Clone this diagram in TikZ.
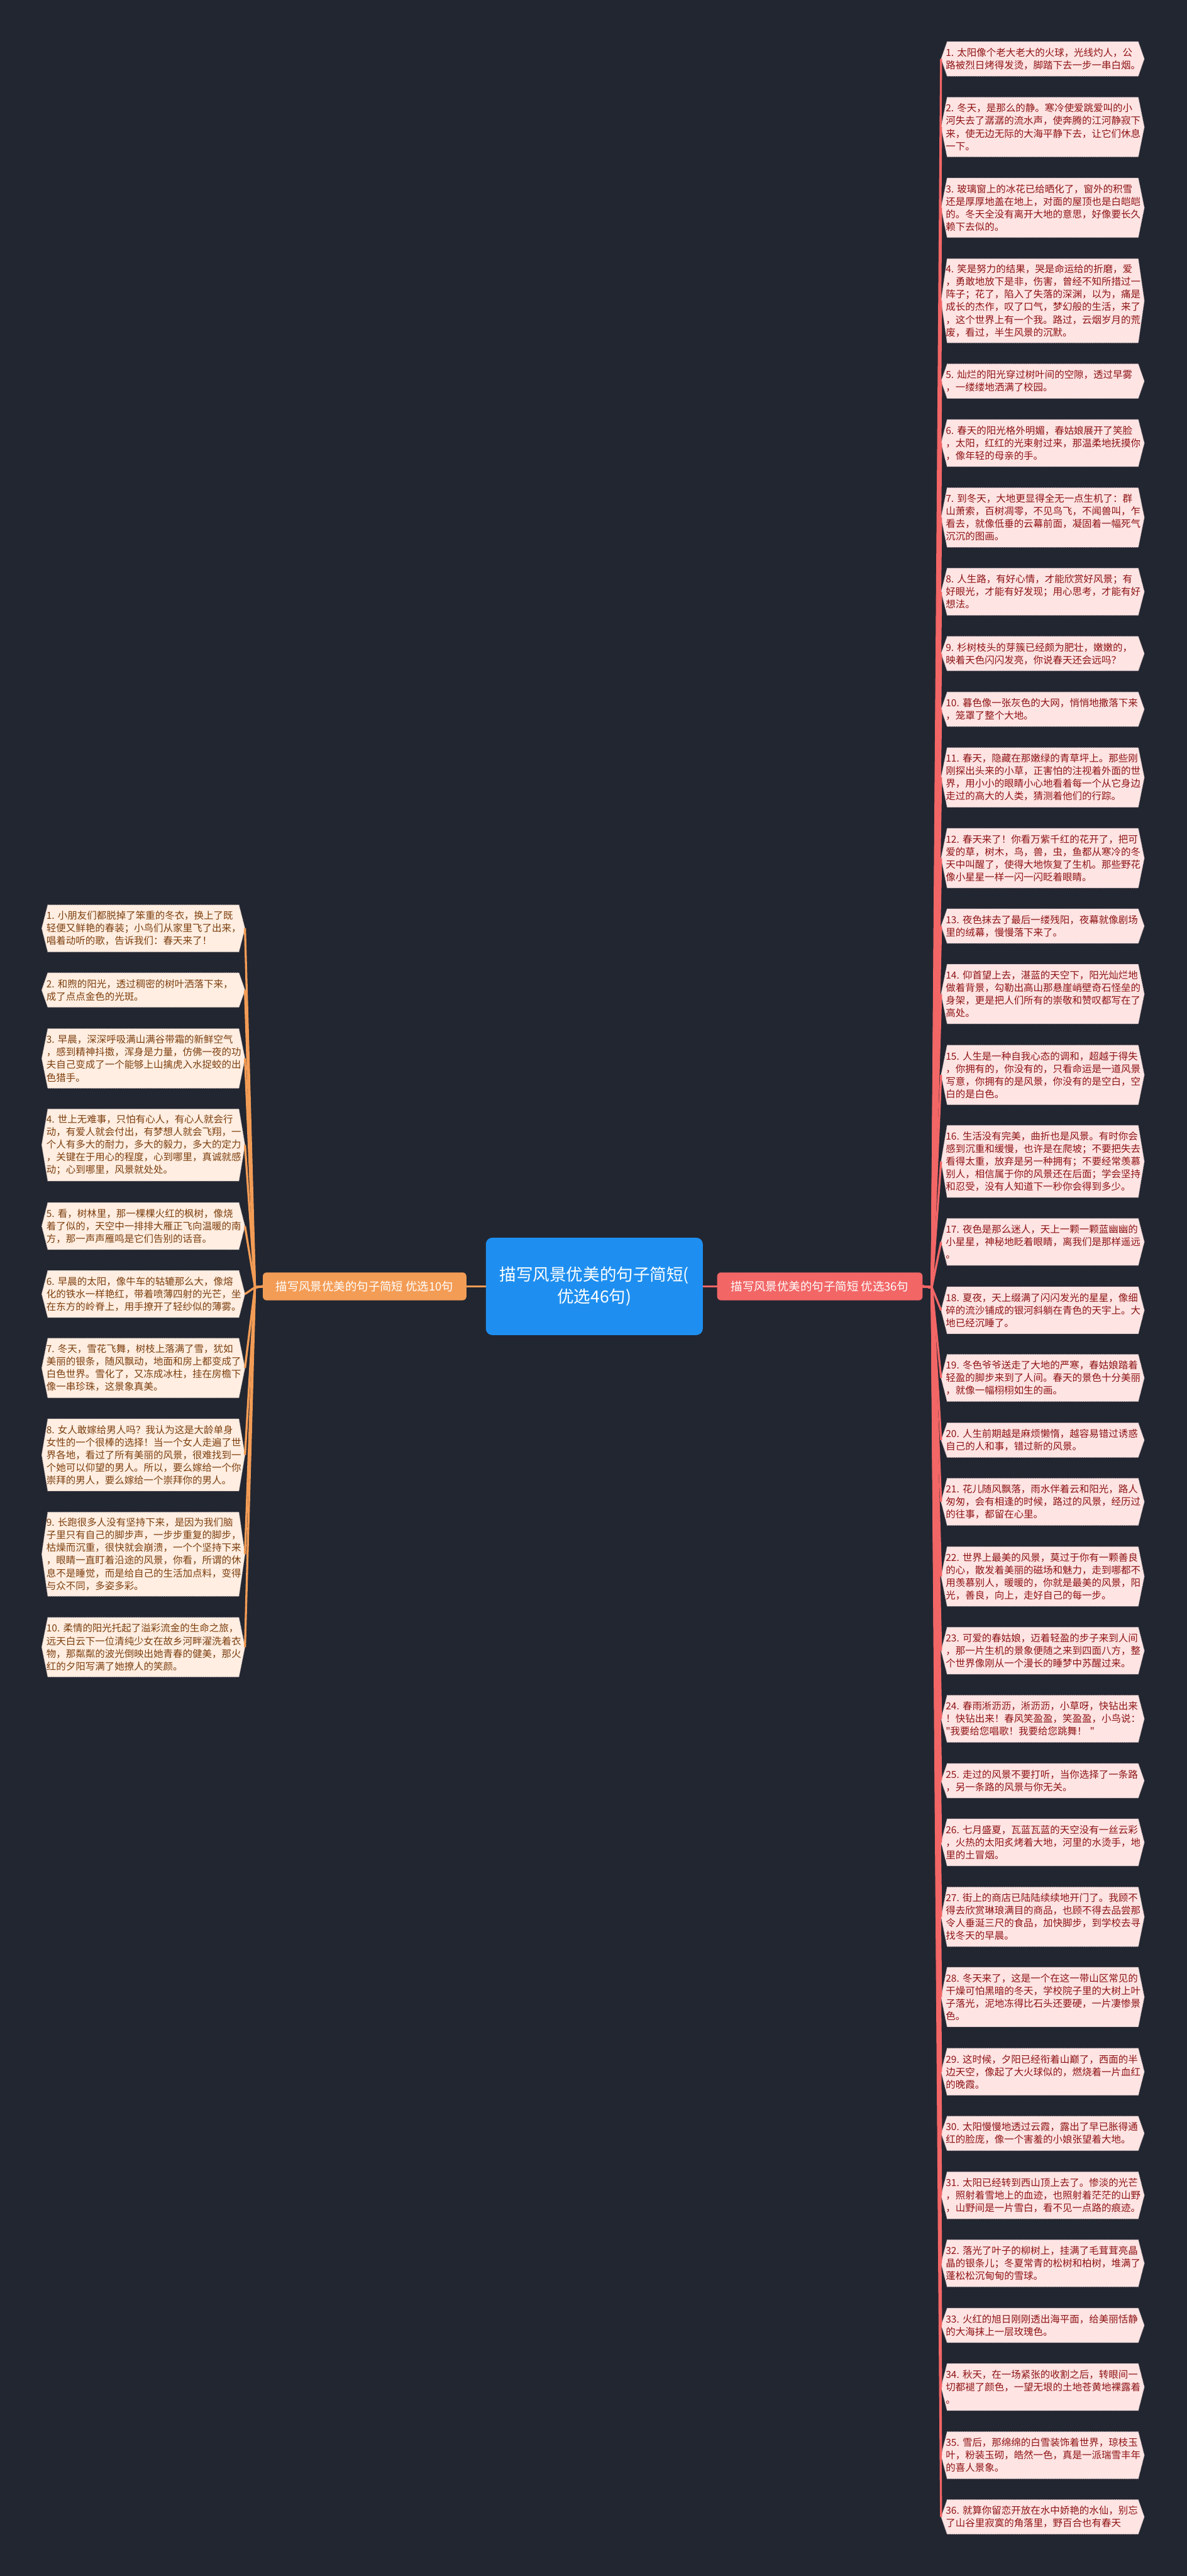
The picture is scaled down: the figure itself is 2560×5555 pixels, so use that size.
\documentclass[tikz,border=0pt]{standalone}
\usepackage{fontspec}
\newfontfamily\cjk{Noto Sans CJK SC}
\usetikzlibrary{backgrounds}
\definecolor{bgc}{HTML}{222631}
\definecolor{rline}{HTML}{F26666}
\definecolor{lline}{HTML}{F39C55}
\definecolor{rfill}{HTML}{FFE4E4}
\definecolor{rtext}{HTML}{8E1414}
\definecolor{lfill}{HTML}{FFEEE1}
\definecolor{ltext}{HTML}{7C3F0F}
\definecolor{cblue}{HTML}{1E8FF0}
\definecolor{hexborder}{HTML}{C8B8B8}
\tikzset{
  leafbox/.style={text width=418pt, inner xsep=10pt, inner ysep=0pt, align=left, anchor=west,
    font=\cjk\fontsize{21pt}{27.2pt}\selectfont},
  rbox/.style={leafbox, text=rtext},
  lbox/.style={leafbox, text=ltext},
  hexstyle/.style={draw=hexborder, line width=1.2pt, dash pattern=on 2pt off 2pt},
  rconn/.style={draw=rline, line width=4.5pt, line join=round},
  lconn/.style={draw=lline, line width=4.5pt, line join=round},
}
\newcommand{\hexbox}[2]{\begin{scope}[on background layer]
  \path[hexstyle, fill=#2] ([xshift=13pt]#1.north west) -- (#1.west) -- ([xshift=13pt]#1.south west)
   -- ([xshift=-13pt]#1.south east) -- (#1.east) -- ([xshift=-13pt]#1.north east) -- cycle;
  \end{scope}}
\newcommand{\RB}[4]{\node[rbox, minimum height=#3pt] (#1) at (2030,#2) {#4};\hexbox{#1}{rfill}}
\newcommand{\LB}[4]{\node[lbox, minimum height=#3pt] (#1) at (90,#2) {#4};\hexbox{#1}{lfill}}
\begin{document}
\begin{tikzpicture}[x=1pt,y=-1pt]
\begin{scope}[on background layer]
\fill[bgc] (0,0) rectangle (2560,5555);
\end{scope}
\useasboundingbox (0,0) rectangle (2560,5555);

% centre and branches
\node[fill=cblue, rounded corners=14pt, text=white, align=center, minimum width=468pt, minimum height=210pt,
  font=\cjk\fontsize{36pt}{47pt}\selectfont] (c) at (1282,2774) {描写风景优美的句子简短(\\优选46句)};
\node[fill=lline, rounded corners=8pt, text=white, minimum width=439pt, minimum height=60pt,
  font=\cjk\fontsize{25pt}{30pt}\selectfont] (lb) at (786.5,2774) {描写风景优美的句子简短 优选10句};
\node[fill=rline, rounded corners=8pt, text=white, minimum width=443pt, minimum height=60pt,
  font=\cjk\fontsize{25pt}{30pt}\selectfont] (rb) at (1768.5,2774) {描写风景优美的句子简短 优选36句};

% right leaves
\RB{r1}{127}{74}{1.~太阳像个老大老大的火球，光线灼人，公\\路被烈日烤得发烫，脚踏下去一步一串白烟。}
\RB{r2}{274}{128}{2.~冬天，是那么的静。寒冷使爱跳爱叫的小\\河失去了潺潺的流水声，使奔腾的江河静寂下\\来，使无边无际的大海平静下去，让它们休息\\一下。}
\RB{r3}{448}{128}{3.~玻璃窗上的冰花已给晒化了，窗外的积雪\\还是厚厚地盖在地上，对面的屋顶也是白皑皑\\的。冬天全没有离开大地的意思，好像要长久\\赖下去似的。}
\RB{r4}{648.5}{181}{4.~笑是努力的结果，哭是命运给的折磨，爱\\，勇敢地放下是非，伤害，曾经不知所措过一\\阵子；花了，陷入了失落的深渊，以为，痛是\\成长的杰作，叹了口气，梦幻般的生活，来了\\，这个世界上有一个我。路过，云烟岁月的荒\\废，看过，半生风景的沉默。}
\RB{r5}{822}{74}{5.~灿烂的阳光穿过树叶间的空隙，透过早雾\\，一缕缕地洒满了校园。}
\RB{r6}{955.5}{101}{6.~春天的阳光格外明媚，春姑娘展开了笑脸\\，太阳，红红的光束射过来，那温柔地抚摸你\\，像年轻的母亲的手。}
\RB{r7}{1116}{128}{7.~到冬天，大地更显得全无一点生机了：群\\山萧索，百树凋零，不见鸟飞，不闻兽叫，乍\\看去，就像低垂的云幕前面，凝固着一幅死气\\沉沉的图画。}
\RB{r8}{1276}{101}{8.~人生路，有好心情，才能欣赏好风景；有\\好眼光，才能有好发现；用心思考，才能有好\\想法。}
\RB{r9}{1409.5}{74}{9.~杉树枝头的芽簇已经颇为肥壮，嫩嫩的，\\映着天色闪闪发亮，你说春天还会远吗？}
\RB{r10}{1529.5}{74}{10.~暮色像一张灰色的大网，悄悄地撒落下来\\，笼罩了整个大地。}
\RB{r11}{1676.5}{128}{11.~春天，隐藏在那嫩绿的青草坪上。那些刚\\刚探出头来的小草，正害怕的注视着外面的世\\界，用小小的眼睛小心地看着每一个从它身边\\走过的高大的人类，猜测着他们的行踪。}
\RB{r12}{1850.5}{128}{12.~春天来了！你看万紫千红的花开了，把可\\爱的草，树木，鸟，兽，虫，鱼都从寒冷的冬\\天中叫醒了，使得大地恢复了生机。那些野花\\像小星星一样一闪一闪眨着眼睛。}
\RB{r13}{1997}{74}{13.~夜色抹去了最后一缕残阳，夜幕就像剧场\\里的绒幕，慢慢落下来了。}
\RB{r14}{2143.5}{128}{14.~仰首望上去，湛蓝的天空下，阳光灿烂地\\做着背景，勾勒出高山那悬崖峭壁奇石怪垒的\\身架，更是把人们所有的崇敬和赞叹都写在了\\高处。}
\RB{r15}{2318}{128}{15.~人生是一种自我心态的调和，超越于得失\\，你拥有的，你没有的，只看命运是一道风景\\写意，你拥有的是风景，你没有的是空白，空\\白的是白色。}
\RB{r16}{2504.5}{155}{16.~生活没有完美，曲折也是风景。有时你会\\感到沉重和缓慢，也许是在爬坡；不要把失去\\看得太重，放弃是另一种拥有；不要经常羡慕\\别人，相信属于你的风景还在后面；学会坚持\\和忍受，没有人知道下一秒你会得到多少。}
\RB{r17}{2678}{101}{17.~夜色是那么迷人，天上一颗一颗蓝幽幽的\\小星星，神秘地眨着眼睛，离我们是那样遥远\\。}
\RB{r18}{2825.5}{101}{18.~夏夜，天上缀满了闪闪发光的星星，像细\\碎的流沙铺成的银河斜躺在青色的天宇上。大\\地已经沉睡了。}
\RB{r19}{2971.5}{101}{19.~冬色爷爷送走了大地的严寒，春姑娘踏着\\轻盈的脚步来到了人间。春天的景色十分美丽\\，就像一幅栩栩如生的画。}
\RB{r20}{3105.5}{74}{20.~人生前期越是麻烦懒惰，越容易错过诱惑\\自己的人和事，错过新的风景。}
\RB{r21}{3238.5}{101}{21.~花儿随风飘落，雨水伴着云和阳光，路人\\匆匆，会有相逢的时候，路过的风景，经历过\\的往事，都留在心里。}
\RB{r22}{3399.5}{128}{22.~世界上最美的风景，莫过于你有一颗善良\\的心，散发着美丽的磁场和魅力，走到哪都不\\用羡慕别人，暖暖的，你就是最美的风景，阳\\光，善良，向上，走好自己的每一步。}
\RB{r23}{3559.5}{101}{23.~可爱的春姑娘，迈着轻盈的步子来到人间\\，那一片生机的景象便随之来到四面八方，整\\个世界像刚从一个漫长的睡梦中苏醒过来。}
\RB{r24}{3706.5}{101}{24.~春雨淅沥沥，淅沥沥，小草呀，快钻出来\\！快钻出来！春风笑盈盈，笑盈盈，小鸟说：\\"我要给您唱歌！我要给您跳舞！~"}
\RB{r25}{3840}{74}{25.~走过的风景不要打听，当你选择了一条路\\，另一条路的风景与你无关。}
\RB{r26}{3973}{101}{26.~七月盛夏，瓦蓝瓦蓝的天空没有一丝云彩\\，火热的太阳炙烤着大地，河里的水烫手，地\\里的土冒烟。}
\RB{r27}{4133.5}{128}{27.~街上的商店已陆陆续续地开门了。我顾不\\得去欣赏琳琅满目的商品，也顾不得去品尝那\\令人垂涎三尺的食品，加快脚步，到学校去寻\\找冬天的早晨。}
\RB{r28}{4306.5}{128}{28.~冬天来了，这是一个在这一带山区常见的\\干燥可怕黑暗的冬天，学校院子里的大树上叶\\子落光，泥地冻得比石头还要硬，一片凄惨景\\色。}
\RB{r29}{4467.5}{101}{29.~这时候，夕阳已经衔着山巅了，西面的半\\边天空，像起了大火球似的，燃烧着一片血红\\的晚霞。}
\RB{r30}{4600.5}{74}{30.~太阳慢慢地透过云霞，露出了早已胀得通\\红的脸庞，像一个害羞的小娘张望着大地。}
\RB{r31}{4734}{101}{31.~太阳已经转到西山顶上去了。惨淡的光芒\\，照射着雪地上的血迹，也照射着茫茫的山野\\，山野间是一片雪白，看不见一点路的痕迹。}
\RB{r32}{4880.5}{101}{32.~落光了叶子的柳树上，挂满了毛茸茸亮晶\\晶的银条儿；冬夏常青的松树和柏树，堆满了\\蓬松松沉甸甸的雪球。}
\RB{r33}{5014.5}{74}{33.~火红的旭日刚刚透出海平面，给美丽恬静\\的大海抹上一层玫瑰色。}
\RB{r34}{5147.5}{101}{34.~秋天，在一场紧张的收割之后，转眼间一\\切都褪了颜色，一望无垠的土地苍黄地裸露着\\。}
\RB{r35}{5294.5}{101}{35.~雪后，那绵绵的白雪装饰着世界，琼枝玉\\叶，粉装玉砌，皓然一色，真是一派瑞雪丰年\\的喜人景象。}
\RB{r36}{5427.5}{74}{36.~就算你留恋开放在水中娇艳的水仙，别忘\\了山谷里寂寞的角落里，野百合也有春天}

% left leaves
\LB{l1}{2002}{101}{1.~小朋友们都脱掉了笨重的冬衣，换上了既\\轻便又鲜艳的春装；小鸟们从家里飞了出来，\\唱着动听的歌，告诉我们：春天来了！}
\LB{l2}{2135}{74}{2.~和煦的阳光，透过稠密的树叶洒落下来，\\成了点点金色的光斑。}
\LB{l3}{2282.5}{128}{3.~早晨，深深呼吸满山满谷带霜的新鲜空气\\，感到精神抖擞，浑身是力量，仿佛一夜的功\\夫自己变成了一个能够上山擒虎入水捉蛟的出\\色猎手。}
\LB{l4}{2469}{155}{4.~世上无难事，只怕有心人，有心人就会行\\动，有爱人就会付出，有梦想人就会飞翔，一\\个人有多大的耐力，多大的毅力，多大的定力\\，关键在于用心的程度，心到哪里，真诚就感\\动；心到哪里，风景就处处。}
\LB{l5}{2644}{101}{5.~看，树林里，那一棵棵火红的枫树，像烧\\着了似的，天空中一排排大雁正飞向温暖的南\\方，那一声声雁鸣是它们告别的话音。}
\LB{l6}{2790.5}{101}{6.~早晨的太阳，像牛车的轱辘那么大，像熔\\化的铁水一样艳红，带着喷薄四射的光芒，坐\\在东方的岭脊上，用手撩开了轻纱似的薄雾。}
\LB{l7}{2950}{128}{7.~冬天，雪花飞舞，树枝上落满了雪，犹如\\美丽的银条，随风飘动，地面和房上都变成了\\白色世界。雪化了，又冻成冰柱，挂在房檐下\\像一串珍珠，这景象真美。}
\LB{l8}{3137.5}{155}{8.~女人敢嫁给男人吗？我认为这是大龄单身\\女性的一个很棒的选择！当一个女人走遍了世\\界各地，看过了所有美丽的风景，很难找到一\\个她可以仰望的男人。所以，要么嫁给一个你\\崇拜的男人，要么嫁给一个崇拜你的男人。}
\LB{l9}{3351.5}{181}{9.~长跑很多人没有坚持下来，是因为我们脑\\子里只有自己的脚步声，一步步重复的脚步，\\枯燥而沉重，很快就会崩溃，一个个坚持下来\\，眼睛一直盯着沿途的风景，你看，所谓的休\\息不是睡觉，而是给自己的生活加点料，变得\\与众不同，多姿多彩。}
\LB{l10}{3552}{128}{10.~柔情的阳光托起了溢彩流金的生命之旅，\\远天白云下一位清纯少女在故乡河畔濯洗着衣\\物，那粼粼的波光倒映出她青春的健美，那火\\红的夕阳写满了她撩人的笑颜。}

% connectors
\coordinate (jl) at (550,2776);
\coordinate (jr) at (2010,2776);
\draw[lconn] (c.west) -- (lb.east);
\draw[rconn] (c.east) -- (rb.west);
\foreach \n in {l1,l2,l3,l4,l5,l6,l7,l8,l9,l10}
  \draw[lconn] (lb.west) -- (jl) -- (\n.east);
\foreach \n in {r1,r2,r3,r4,r5,r6,r7,r8,r9,r10,r11,r12,r13,r14,r15,r16,r17,r18,r19,r20,r21,r22,r23,r24,r25,r26,r27,r28,r29,r30,r31,r32,r33,r34,r35,r36}
  \draw[rconn] (rb.east) -- (jr) -- (\n.west);
\end{tikzpicture}
\end{document}
